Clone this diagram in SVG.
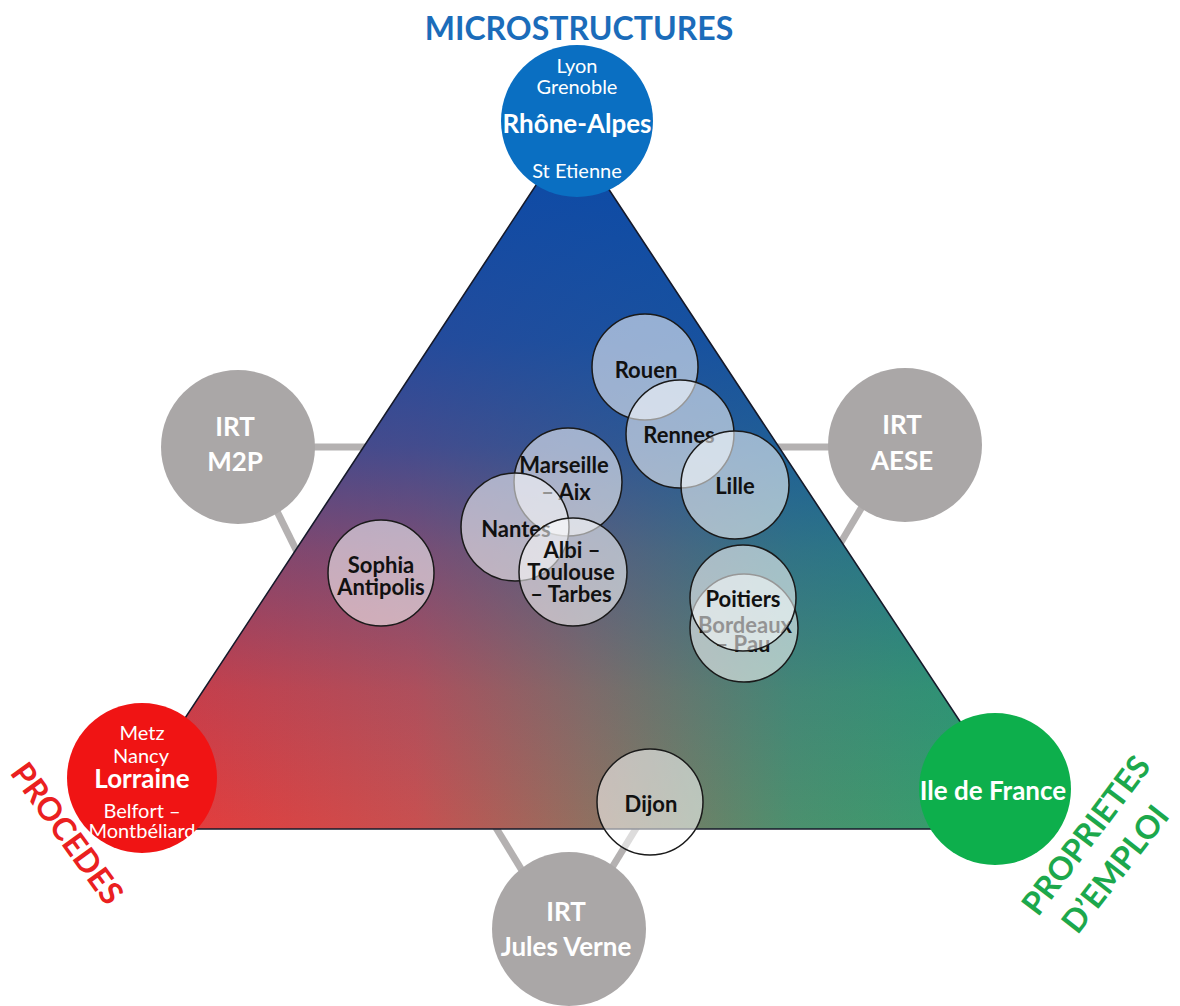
<svg xmlns="http://www.w3.org/2000/svg" width="1180" height="1006" viewBox="0 0 1180 1006">
  <defs>
    <!-- base colour runs red (left corner) to green (right corner) -->
    <linearGradient id="baseGrad" gradientUnits="userSpaceOnUse" x1="112" y1="0" x2="1031" y2="0">
      <stop offset="0" stop-color="#ec3636"/>
      <stop offset="0.33" stop-color="#c85050"/>
      <stop offset="0.52" stop-color="#907060"/>
      <stop offset="0.74" stop-color="#4c906e"/>
      <stop offset="1" stop-color="#2aa46c"/>
    </linearGradient>
    <!-- blue wash fading from the apex down to the base -->
    <linearGradient id="blueWash" gradientUnits="userSpaceOnUse" x1="0" y1="132" x2="0" y2="829">
      <stop offset="0" stop-color="#0a4aa8" stop-opacity="1"/>
      <stop offset="0.3" stop-color="#0a4aa8" stop-opacity="0.86"/>
      <stop offset="0.45" stop-color="#0a4aa8" stop-opacity="0.7"/>
      <stop offset="0.6" stop-color="#0a4aa8" stop-opacity="0.42"/>
      <stop offset="0.8" stop-color="#0a4aa8" stop-opacity="0.14"/>
      <stop offset="1" stop-color="#0a4aa8" stop-opacity="0"/>
    </linearGradient>
    <style>
      .f { font-family: Lato, "Liberation Sans", Arial, sans-serif; }
      .axis { font-weight: bold; font-size: 32px; text-anchor: middle; }
      .wsm { fill: #ffffff; font-size: 20px; text-anchor: middle; }
      .wbig { fill: #ffffff; font-weight: bold; font-size: 26px; text-anchor: middle; }
      .irt { fill: #aaa7a7; }
      .bar { stroke: #b4b1b1; stroke-width: 7; fill: none; }
      .site { fill: #ffffff; fill-opacity: 0.55; stroke: #1a1a1a; stroke-width: 1.5; }
      .lbl { fill: #111111; font-weight: bold; font-size: 22px; text-anchor: middle; }
    </style>
  </defs>

  <rect width="1180" height="1006" fill="#ffffff"/>

  <!-- links from the IRT discs to the triangle -->
  <g id="connectors">
    <line class="bar" x1="238" y1="447" x2="372" y2="447"/>
    <line class="bar" x1="268" y1="493" x2="304" y2="566"/>
    <line class="bar" x1="905" y1="447" x2="770" y2="447"/>
    <line class="bar" x1="872" y1="490" x2="834" y2="554"/>
    <line class="bar" x1="490" y1="818" x2="526" y2="877"/>
    <line class="bar" x1="643" y1="817" x2="605" y2="879"/>
  </g>

  <!-- triangle -->
  <g id="triangle">
    <polygon points="571,132 112,829 1031,829" fill="url(#baseGrad)"/>
    <polygon points="571,132 112,829 1031,829" fill="url(#blueWash)" stroke="#161a2a" stroke-width="1.6" stroke-linejoin="miter"/>
  </g>

  <!-- axis titles -->
  <g id="axis-labels" class="f">
    <text class="axis" x="579" y="40" fill="#1b6cba">MICROSTRUCTURES</text>
    <text class="axis" fill="#ea2020" transform="translate(58,840) rotate(54)">PROCEDES</text>
    <text class="axis" fill="#1ca84c" transform="translate(1095,842) rotate(-53)">PROPRIETES</text>
    <text class="axis" fill="#1ca84c" transform="translate(1124,876) rotate(-52)">D’EMPLOI</text>
  </g>

  <!-- corner poles -->
  <g id="rhone-alpes" class="f">
    <circle cx="577" cy="121" r="76" fill="#0a6fc2"/>
    <text class="wsm" x="577" y="73">Lyon</text>
    <text class="wsm" x="577" y="94">Grenoble</text>
    <text class="wbig" x="577" y="133">Rhône-Alpes</text>
    <text class="wsm" x="577" y="178">St Etienne</text>
  </g>
  <g id="lorraine" class="f">
    <circle cx="142" cy="778" r="75" fill="#f01414"/>
    <text class="wsm" x="142" y="740">Metz</text>
    <text class="wsm" x="141" y="763">Nancy</text>
    <text class="wbig" x="142" y="788">Lorraine</text>
    <text class="wsm" x="142" y="818">Belfort –</text>
    <text class="wsm" x="142" y="838">Montbéliard</text>
  </g>
  <g id="ile-de-france" class="f">
    <circle cx="995" cy="789" r="76" fill="#0daf4c"/>
    <text class="wbig" x="993" y="800">Ile de France</text>
  </g>

  <!-- IRT discs -->
  <g id="irt-m2p" class="f">
    <circle class="irt" cx="238" cy="447" r="77"/>
    <text class="wbig" x="235" y="436">IRT</text>
    <text class="wbig" x="235" y="471">M2P</text>
  </g>
  <g id="irt-aese" class="f">
    <circle class="irt" cx="905" cy="445" r="77"/>
    <text class="wbig" x="902" y="434">IRT</text>
    <text class="wbig" x="902" y="470">AESE</text>
  </g>
  <g id="irt-jules-verne" class="f">
    <circle class="irt" cx="569" cy="929" r="77"/>
    <text class="wbig" x="566" y="921">IRT</text>
    <text class="wbig" x="566" y="956">Jules Verne</text>
  </g>

  <!-- sites -->
  <g id="rouen" class="f">
    <circle class="site" cx="645" cy="367" r="53"/>
    <text class="lbl" x="646" y="378">Rouen</text>
  </g>
  <g id="rennes" class="f">
    <circle class="site" cx="680" cy="434" r="54"/>
    <text class="lbl" x="679" y="443">Rennes</text>
  </g>
  <g id="lille" class="f">
    <circle class="site" cx="735" cy="485" r="54"/>
    <text class="lbl" x="735" y="494">Lille</text>
  </g>
  <g id="marseille-aix" class="f">
    <circle class="site" cx="568" cy="482" r="54"/>
    <text class="lbl" x="564" y="473">Marseille</text>
    <text class="lbl" x="566" y="500">– Aix</text>
  </g>
  <g id="nantes" class="f">
    <circle class="site" cx="515" cy="527" r="54"/>
    <text class="lbl" x="516" y="537">Nantes</text>
  </g>
  <g id="albi-toulouse-tarbes" class="f">
    <circle class="site" cx="573" cy="572" r="54"/>
    <text class="lbl" x="572" y="558">Albi –</text>
    <text class="lbl" x="571" y="580">Toulouse</text>
    <text class="lbl" x="571" y="602">– Tarbes</text>
  </g>
  <g id="sophia-antipolis" class="f">
    <circle class="site" cx="381" cy="573" r="53"/>
    <text class="lbl" x="381" y="573">Sophia</text>
    <text class="lbl" x="381" y="595">Antipolis</text>
  </g>
  <g id="bordeaux-pau" class="f">
    <circle class="site" cx="744" cy="628" r="54"/>
    <text class="lbl" x="745" y="633">Bordeaux</text>
    <text class="lbl" x="743" y="652">– Pau</text>
  </g>
  <g id="poitiers" class="f">
    <circle class="site" cx="743" cy="598" r="53"/>
    <text class="lbl" x="743" y="607">Poitiers</text>
  </g>
  <g id="dijon" class="f">
    <circle class="site" cx="650" cy="802" r="53"/>
    <text class="lbl" x="651" y="812">Dijon</text>
  </g>
</svg>
